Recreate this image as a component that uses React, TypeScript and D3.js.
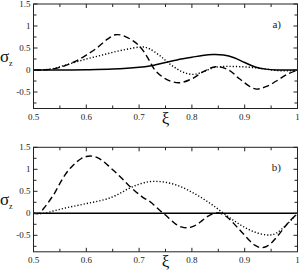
import React from 'react';
import * as d3 from 'd3';

// constants
const width = 299;
const height = 273;
const xLeft = 33.5;
const xRight = 297.5;

// panel a data
const xiA = [0.5, 0.52, 0.54, 0.56, 0.58, 0.6, 0.62, 0.64, 0.655, 0.67, 0.69, 0.7, 0.71, 0.72, 0.73, 0.75, 0.775, 0.8, 0.82, 0.845, 0.87, 0.89, 0.92, 0.94, 0.96, 0.98, 1.0];
const dashedA = [0, 0.003, 0.03, 0.1, 0.2, 0.34, 0.5, 0.7, 0.8, 0.78, 0.65, 0.55, 0.4, 0.2, 0.0, -0.2, -0.29, -0.2, -0.05, 0.075, 0.0, -0.2, -0.43, -0.38, -0.25, -0.1, 0];
const xiDotA = [0.5, 0.52, 0.54, 0.56, 0.58, 0.6, 0.62, 0.64, 0.66, 0.68, 0.7, 0.71, 0.72, 0.74, 0.76, 0.78, 0.8, 0.82, 0.84, 0.86, 0.88, 0.9, 0.92, 0.94, 0.96, 0.98, 1.0];
const dottedA = [0, 0.005, 0.04, 0.11, 0.18, 0.25, 0.31, 0.37, 0.43, 0.48, 0.52, 0.52, 0.48, 0.32, 0.12, -0.03, -0.1, -0.05, 0.05, 0.08, 0.08, 0.07, 0.05, 0.02, -0.01, -0.02, 0];
const xiSolidA = [0.5, 0.55, 0.6, 0.65, 0.7, 0.72, 0.75, 0.78, 0.8, 0.82, 0.84, 0.86, 0.88, 0.9, 0.92, 0.94, 0.96, 1.0];
const solidA = [0, 0, 0.005, 0.02, 0.06, 0.09, 0.17, 0.25, 0.29, 0.33, 0.35, 0.34, 0.28, 0.17, 0.07, 0.02, 0, 0];

// panel b data
const xiB = [0.5, 0.51, 0.52, 0.53, 0.54, 0.55, 0.56, 0.57, 0.58, 0.59, 0.6, 0.61, 0.62, 0.63, 0.64, 0.65, 0.66, 0.67, 0.68, 0.69, 0.7, 0.71, 0.72, 0.73, 0.74, 0.75, 0.76, 0.77, 0.78, 0.79, 0.8, 0.81, 0.82, 0.83, 0.84, 0.85, 0.86, 0.87, 0.88, 0.89, 0.9, 0.91, 0.92, 0.93, 0.94, 0.95, 0.96, 0.97, 0.98, 0.99, 1.0];
const dashedB = [0, 0, 0.12, 0.28, 0.46, 0.68, 0.88, 1.03, 1.15, 1.24, 1.29, 1.3, 1.27, 1.2, 1.1, 0.99, 0.88, 0.76, 0.64, 0.53, 0.43, 0.34, 0.27, 0.17, 0.06, -0.04, -0.15, -0.25, -0.31, -0.33, -0.31, -0.25, -0.16, -0.07, -0.01, 0.01, -0.03, -0.12, -0.24, -0.37, -0.5, -0.63, -0.73, -0.78, -0.76, -0.68, -0.55, -0.4, -0.25, -0.12, 0];
const xiDotB = [0.5, 0.52, 0.54, 0.56, 0.58, 0.6, 0.62, 0.64, 0.66, 0.68, 0.7, 0.72, 0.74, 0.76, 0.78, 0.8, 0.82, 0.84, 0.86, 0.88, 0.9, 0.92, 0.94, 0.95, 0.96, 0.98, 1.0];
const dottedB = [0, 0, 0.06, 0.12, 0.17, 0.22, 0.27, 0.33, 0.43, 0.56, 0.66, 0.72, 0.72, 0.68, 0.6, 0.48, 0.34, 0.18, 0, -0.17, -0.32, -0.43, -0.49, -0.49, -0.45, -0.25, 0];
const xiSolidB = [0.5, 1.0];
const solidB = [0, 0];

// tick labels
const xTickVals = [0.5, 0.6, 0.7, 0.8, 0.9, 1.0];
const xMinor = d3.range(0.5, 1.0001, 0.05);
const yTickVals = [-0.5, 0, 0.5, 1, 1.5];
const yMinor = d3.range(-0.75, 1.5001, 0.25);

const serif = "'Liberation Serif', 'Times New Roman', Times, 'DejaVu Serif', serif";

const xScale = d3.scaleLinear().domain([0.5, 1.0]).range([xLeft, xRight]);
const fmt = (v: number) => (v === 1 ? '1' : String(+v.toFixed(2)));

type Panel = {
  top: number;
  label: string;
  series: { xs: number[]; ys: number[]; dash: string; w: number }[];
};

const panels: Panel[] = [
  {
    top: 4,
    label: 'a)',
    series: [
      { xs: xiSolidA, ys: solidA, dash: 'none', w: 1.5 },
      { xs: xiA, ys: dashedA, dash: '6.5,3.5', w: 1.4 },
      { xs: xiDotA, ys: dottedA, dash: '1.2,2', w: 1.4 },
    ],
  },
  {
    top: 147.3,
    label: 'b)',
    series: [
      { xs: xiSolidB, ys: solidB, dash: 'none', w: 1.5 },
      { xs: xiB, ys: dashedB, dash: '6.5,3.5', w: 1.4 },
      { xs: xiDotB, ys: dottedB, dash: '1.2,2', w: 1.4 },
    ],
  },
];

const PanelView = ({ p }: { p: Panel }) => {
  const yScale = d3.scaleLinear().domain([-0.875, 1.5]).range([p.top + 2.375 * 44, p.top]);
  const y0 = yScale.range()[0];
  const line = d3.line<[number, number]>()
    .x(d => xScale(d[0]))
    .y(d => yScale(d[1]))
    .curve(d3.curveCatmullRom.alpha(0.5));

  return (
    <g>
      {p.series.map((s, i) => (
        <path key={i}
          d={line(s.xs.map((x, j) => [x, s.ys[j]] as [number, number])) || ''}
          fill="none" stroke="#000" strokeWidth={s.w}
          strokeDasharray={s.dash === 'none' ? undefined : s.dash} />
      ))}
      {/* frame */}
      <rect x={xLeft} y={p.top} width={xRight - xLeft} height={y0 - p.top}
        fill="none" stroke="#222" strokeWidth={1} />
      {/* x ticks, top and bottom */}
      {xMinor.map((v, i) => {
        const len = i % 2 === 0 ? 4 : 3;
        const x = xScale(v);
        return (
          <g key={'x' + i} stroke="#222" strokeWidth={1}>
            <line x1={x} x2={x} y1={y0} y2={y0 - len} />
            <line x1={x} x2={x} y1={p.top} y2={p.top + len} />
          </g>
        );
      })}
      {yMinor.map((v, i) => {
        const len = i % 2 === 1 ? 4 : 3;
        const y = yScale(v);
        return (
          <g key={'y' + i} stroke="#222" strokeWidth={1}>
            <line x1={xLeft} x2={xLeft + len} y1={y} y2={y} />
            <line x1={xRight} x2={xRight - len} y1={y} y2={y} />
          </g>
        );
      })}
      {xTickVals.map(v => (
        <text key={'xl' + v} x={xScale(v)} y={y0 + 11} textAnchor="middle"
          fontFamily={serif} fontSize={9} fill="#222">{fmt(v)}</text>
      ))}
      {yTickVals.map(v => (
        <text key={'yl' + v} x={30.5} y={yScale(v) + 3} textAnchor="end"
          fontFamily={serif} fontSize={9} fill="#222">{fmt(v)}</text>
      ))}
      <text x={281} y={p.top + 24} textAnchor="end" fontFamily={serif} fontSize={11} fill="#222">{p.label}</text>
      <text x={165.5} y={y0 + 15} textAnchor="middle" fontFamily={serif} fontSize={17} fill="#111">ξ</text>
      <text x={0} y={p.top + 58} fontFamily={serif} fontSize={17} fill="#111">σ</text>
      <text x={9} y={p.top + 62} fontFamily={serif} fontSize={8} fill="#111">z</text>
    </g>
  );
};

const App = () => {
  return (
    <div style={{ position: 'absolute', left: 0, top: 0 }}>
      <svg width={width} height={height} style={{ display: 'block', background: '#fff' }}>
        {panels.map((p, i) => <PanelView key={i} p={p} />)}
      </svg>
    </div>
  );
};

export default App;
